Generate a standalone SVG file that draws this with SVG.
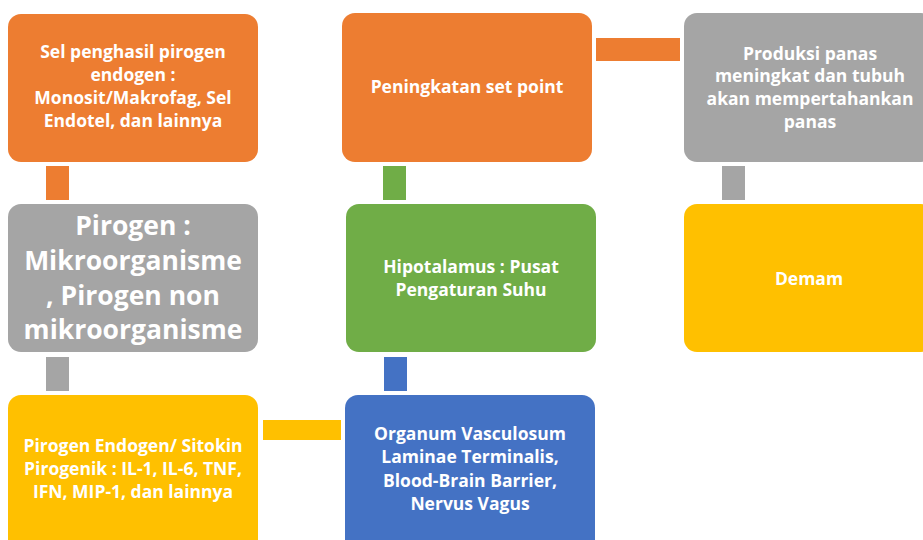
<svg xmlns="http://www.w3.org/2000/svg" width="923" height="540" viewBox="0 0 923 540">
<style>
text{font-family:"Open Sans","Liberation Sans",sans-serif;font-weight:bold;fill:#fff;text-anchor:middle}
.s{font-size:17.5px}
.b{font-size:26.5px}
.orange{fill:#ED7D31}.gray{fill:#A5A5A5}.green{fill:#70AD47}.yellow{fill:#FFC000}.blue{fill:#4472C4}
</style>
<rect width="923" height="540" fill="#fff"/>
<g id="connectors">
<rect class="orange" x="46" y="166" width="23" height="34"/>
<rect class="gray" x="46" y="357" width="23" height="34"/>
<rect class="yellow" x="263" y="420" width="78" height="20"/>
<rect class="blue" x="384" y="357" width="23" height="34"/>
<rect class="green" x="383" y="166" width="23" height="34"/>
<rect class="orange" x="596" y="38" width="84" height="23"/>
<rect class="gray" x="722" y="166" width="23" height="34"/>
</g>
<g id="n1"><rect class="orange" x="8" y="14" width="250" height="148" rx="13"/>
<text class="s" x="133" y="58">Sel penghasil pirogen</text>
<text class="s" x="133" y="81">endogen :</text>
<text class="s" x="133" y="104">Monosit/Makrofag, Sel</text>
<text class="s" x="133" y="127">Endotel, dan lainnya</text></g>
<g id="n2"><rect class="gray" x="8" y="204" width="250" height="148" rx="13"/>
<text class="b" x="133" y="235">Pirogen :</text>
<text class="b" x="133" y="270">Mikroorganisme</text>
<text class="b" x="133" y="305">, Pirogen non</text>
<text class="b" x="133" y="339">mikroorganisme</text></g>
<g id="n3"><rect class="yellow" x="8" y="395" width="250" height="160" rx="13"/>
<text class="s" x="133" y="452">Pirogen Endogen/ Sitokin</text>
<text class="s" x="133" y="475">Pirogenik : IL-1, IL-6, TNF,</text>
<text class="s" x="133" y="498">IFN, MIP-1, dan lainnya</text></g>
<g id="n4"><rect class="blue" x="345" y="395" width="250" height="160" rx="13"/>
<text class="s" x="470" y="440">Organum Vasculosum</text>
<text class="s" x="470" y="463">Laminae Terminalis,</text>
<text class="s" x="470" y="487">Blood-Brain Barrier,</text>
<text class="s" x="470" y="510">Nervus Vagus</text></g>
<g id="n5"><rect class="green" x="346" y="204" width="250" height="148" rx="13"/>
<text class="s" x="471" y="273">Hipotalamus : Pusat</text>
<text class="s" x="471" y="296">Pengaturan Suhu</text></g>
<g id="n6"><rect class="orange" x="342" y="13" width="250" height="149" rx="13"/>
<text class="s" x="467" y="93">Peningkatan set point</text></g>
<g id="n7"><rect class="gray" x="684" y="13" width="250" height="149" rx="13"/>
<text class="s" x="810" y="60">Produksi panas</text>
<text class="s" x="810" y="82">meningkat dan tubuh</text>
<text class="s" x="810" y="105">akan mempertahankan</text>
<text class="s" x="810" y="128">panas</text></g>
<g id="n8"><rect class="yellow" x="684" y="204" width="250" height="148" rx="13"/>
<text class="s" x="809" y="285">Demam</text></g>
</svg>
